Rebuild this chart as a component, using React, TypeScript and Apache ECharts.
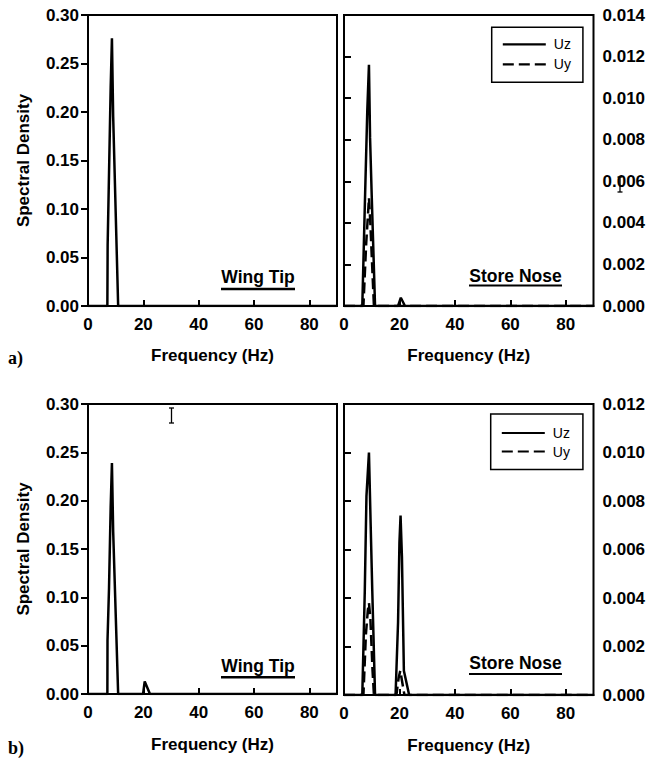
import React, { useEffect, useRef } from "react";
import * as echarts from "echarts";

// ---- data ----
const freqTicks = [0, 20, 40, 60, 80];

// a) Wing Tip
const wingTipAFreq = [0, 7.0, 7.1, 8.2, 8.65, 9.1, 10.9, 90];
const wingTipAVal = [0, 0, 0.063, 0.226, 0.276, 0.195, 0, 0];

// a) Store Nose
const storeNoseAUzFreq = [0, 6.6, 7.6, 8.4, 9.0, 9.4, 10.0, 11.2, 19.5, 20.5, 22.0, 90];
const storeNoseAUzVal = [0, 0, 0.0053, 0.0094, 0.0116, 0.0081, 0.0053, 0, 0, 0.0004, 0, 0];
const storeNoseAUyFreq = [0, 7.0, 8.0, 8.7, 9.0, 9.5, 10.3, 10.8, 90];
const storeNoseAUyVal = [0, 0, 0.003, 0.0045, 0.0052, 0.004, 0.0015, 0, 0];

// b) Wing Tip
const wingTipBFreq = [0, 7.0, 7.05, 7.6, 8.2, 8.65, 9.1, 10.9, 19.9, 20.5, 22.4, 90];
const wingTipBVal = [0, 0, 0.055, 0.11, 0.194, 0.239, 0.168, 0, 0, 0.013, 0, 0];

// b) Store Nose
const storeNoseBUzFreq = [0, 6.6, 7.5, 8.1, 9.0, 9.6, 10.2, 11.2, 18.6, 19.5, 20.0, 20.4, 20.9, 21.6, 23.5, 90];
const storeNoseBUzVal = [0, 0, 0.0043, 0.0082, 0.01, 0.0071, 0.0043, 0, 0, 0.003, 0.0063, 0.0074, 0.0057, 0.001, 0, 0];
const storeNoseBUyFreq = [0, 7.0, 7.9, 8.6, 9.0, 9.5, 10.3, 10.8, 18.9, 19.7, 20.3, 20.9, 21.8, 90];
const storeNoseBUyVal = [0, 0, 0.0025, 0.0035, 0.0038, 0.0032, 0.001, 0, 0, 0.0007, 0.001, 0.0006, 0, 0];

const seriesNames = ["Uz", "Uy"];
const panelLabels = ["a)", "b)"];
const locationLabels = ["Wing Tip", "Store Nose"];
const xTitle = "Frequency (Hz)";
const yTitle = "Spectral Density";

const zip = (f: number[], v: number[]) => f.map((x, i) => [x, v[i]]);

const SANS = "'Liberation Sans', Arial, Helvetica, sans-serif";
const SERIF = "'Liberation Serif', 'Times New Roman', serif";

export default function App() {
  const ref = useRef<HTMLDivElement>(null);

  useEffect(() => {
    if (!ref.current) return;
    const chart = echarts.init(ref.current, null, { renderer: "svg" });

    const black = "#000";
    const labelStyle = { color: black, fontSize: 17, fontWeight: "bold" as const, fontFamily: SANS };

    const grids = [
      { left: 88, top: 15, width: 249, height: 291 },
      { left: 344, top: 15, width: 249.5, height: 291 },
      { left: 88, top: 404, width: 249, height: 290 },
      { left: 344, top: 404, width: 249.5, height: 291 },
    ].map((g) => ({ ...g, show: true, borderColor: black, borderWidth: 2, backgroundColor: "transparent" }));

    const xAxes = [0, 1, 2, 3].map((i) => ({
      type: "value",
      gridIndex: i,
      min: 0,
      max: 90,
      interval: freqTicks[1] - freqTicks[0],
      axisLine: { show: true, lineStyle: { color: black, width: 2 } },
      axisTick: { show: true, inside: true, length: 6, lineStyle: { color: black, width: 2 } },
      axisLabel: { ...labelStyle, margin: 10, showMaxLabel: false },
      splitLine: { show: false },
      name: xTitle,
      nameLocation: "middle",
      nameGap: i < 2 ? 41 : 42,
      nameTextStyle: labelStyle,
    }));

    const leftY = (grid: number) => ({
      type: "value",
      gridIndex: grid,
      position: "left",
      min: 0,
      max: 0.3,
      interval: 0.05,
      axisLine: { show: true, lineStyle: { color: black, width: 2 } },
      axisTick: { show: true, inside: false, length: 7, lineStyle: { color: black, width: 2 } },
      axisLabel: { ...labelStyle, margin: 9, formatter: (v: number) => v.toFixed(2) },
      splitLine: { show: false },
      name: yTitle,
      nameLocation: "middle",
      nameRotate: 90,
      nameGap: 56,
      nameTextStyle: labelStyle,
    });
    const rightY = (grid: number, max: number) => ({
      type: "value",
      gridIndex: grid,
      position: "right",
      min: 0,
      max,
      interval: 0.002,
      axisLine: { show: true, lineStyle: { color: black, width: 2 } },
      axisTick: { show: false },
      axisLabel: { ...labelStyle, margin: 9, formatter: (v: number) => v.toFixed(3) },
      splitLine: { show: false },
    });
    const innerTickY = (grid: number, max: number) => ({
      type: "value",
      gridIndex: grid,
      position: "left",
      min: 0,
      max,
      interval: 0.002,
      axisLine: { show: true, lineStyle: { color: black, width: 2 } },
      axisTick: { show: true, inside: true, length: 7, lineStyle: { color: black, width: 2 } },
      axisLabel: { show: false },
      splitLine: { show: false },
    });

    const yAxes = [
      leftY(0),
      rightY(1, 0.014),
      innerTickY(1, 0.014),
      leftY(2),
      rightY(3, 0.012),
      innerTickY(3, 0.012),
    ];

    const solid = { color: black, width: 2.5, type: "solid" as const };
    const dashed = { color: black, width: 2.5, type: [11, 5] };
    const mk = (name: string, xi: number, yi: number, data: number[][], ls: any, z = 3) => ({
      type: "line",
      name,
      xAxisIndex: xi,
      yAxisIndex: yi,
      data,
      symbol: "none",
      showSymbol: false,
      lineStyle: ls,
      itemStyle: { color: black },
      z,
      clip: true,
    });

    const series = [
      mk("Wing Tip a", 0, 0, zip(wingTipAFreq, wingTipAVal), solid),
      mk(seriesNames[0], 1, 1, zip(storeNoseAUzFreq, storeNoseAUzVal), solid),
      mk(seriesNames[1], 1, 1, zip(storeNoseAUyFreq, storeNoseAUyVal), dashed, 4),
      mk("Wing Tip b", 2, 3, zip(wingTipBFreq, wingTipBVal), solid),
      mk(seriesNames[0], 3, 4, zip(storeNoseBUzFreq, storeNoseBUzVal), solid),
      mk(seriesNames[1], 3, 4, zip(storeNoseBUyFreq, storeNoseBUyVal), dashed, 4),
    ];

    const legendBase = {
      data: seriesNames,
      orient: "vertical",
      itemWidth: 43,
      itemHeight: 14,
      borderColor: black,
      borderWidth: 1.5,
      borderRadius: 0,
      backgroundColor: "#fff",
      selectedMode: false,
      itemStyle: { opacity: 0, borderWidth: 0 },
      lineStyle: { width: 2.2 },
      textStyle: { color: black, fontSize: 14, fontFamily: SANS, padding: [0, 0, 0, 3] },
    };
    const legends = [
      { ...legendBase, left: 491.7, top: 27.3, itemGap: 6, padding: [10, 12, 11, 10] },
      { ...legendBase, left: 490.7, top: 414, itemGap: 4.5, padding: [12, 13, 11, 10] },
    ];

    const underlined = (text: string, cx: number, cy: number, x1: number, x2: number, uy: number, uw: number) => [
      {
        type: "text",
        style: {
          text,
          x: cx,
          y: cy,
          align: "center",
          verticalAlign: "middle",
          font: `bold 17.5px ${SANS}`,
          fill: black,
        },
        z: 10,
      },
      {
        type: "line",
        shape: { x1, y1: uy, x2, y2: uy },
        style: { stroke: black, lineWidth: uw },
        z: 10,
      },
    ];

    const cursor = (x: number, y1: number, y2: number) => [
      { type: "line", shape: { x1: x, y1, x2: x, y2 }, style: { stroke: black, lineWidth: 1.3 }, z: 20 },
      { type: "line", shape: { x1: x - 2.5, y1, x2: x + 2.5, y2: y1 }, style: { stroke: black, lineWidth: 1.3 }, z: 20 },
      { type: "line", shape: { x1: x - 2.5, y1: y2, x2: x + 2.5, y2 }, style: { stroke: black, lineWidth: 1.3 }, z: 20 },
    ];

    const graphic = [
      {
        type: "text",
        style: { text: panelLabels[0], x: 8, y: 357.5, verticalAlign: "middle", font: `bold 18px ${SERIF}`, fill: black },
      },
      {
        type: "text",
        style: { text: panelLabels[1], x: 8, y: 748, verticalAlign: "middle", font: `bold 18px ${SERIF}`, fill: black },
      },
      ...underlined(locationLabels[0], 258, 276.5, 221, 295, 289, 2.5),
      ...underlined(locationLabels[0], 258, 665.8, 221, 295, 677.3, 2.5),
      ...underlined(locationLabels[1], 515.5, 275.5, 469, 562, 285.5, 2),
      ...underlined(locationLabels[1], 515.5, 663.3, 469, 562, 674, 2),
      ...cursor(620, 177, 192),
      ...cursor(171.5, 408, 423),
    ];

    chart.setOption({
      animation: false,
      backgroundColor: "#fff",
      grid: grids,
      xAxis: xAxes,
      yAxis: yAxes,
      series,
      legend: legends,
      graphic,
    });

    return () => chart.dispose();
  }, []);

  return (
    <div
      ref={ref}
      style={{ position: "absolute", left: 0, top: 0, width: 663, height: 759, background: "#fff" }}
    />
  );
}
